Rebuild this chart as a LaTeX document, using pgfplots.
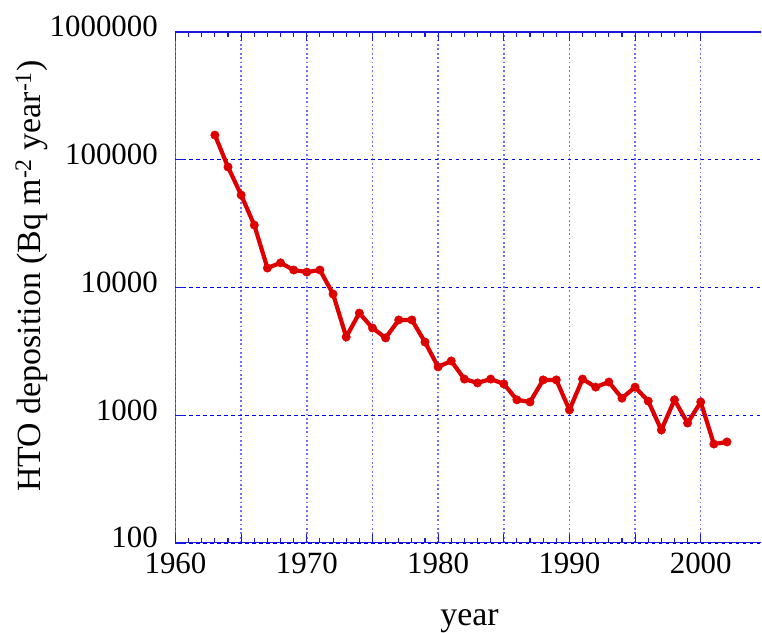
\documentclass[border=0pt]{standalone}
\usepackage{fontspec}
\setmainfont{Liberation Serif}
\usepackage{pgfplots}
\pgfplotsset{compat=1.18}
\definecolor{axblue}{RGB}{25,25,225}
\definecolor{gridv}{RGB}{110,110,250}
\definecolor{gridh}{RGB}{0,0,235}
\definecolor{linered}{RGB}{222,0,0}
\begin{document}
\begin{tikzpicture}
\begin{axis}[
  name=ax,
  scale only axis,
  width=585.5bp, height=511bp,
  xmin=1960, xmax=2004.59,
  ymode=log, ymin=100, ymax=1000000,
  xtick={1960,1965,...,2000},
  xticklabels={1960,,1970,,1980,,1990,,2000},
  minor x tick num=4,
  ytick={100,1000,10000,100000,1000000},
  yticklabels={100,1000,10000,100000,1000000},
  yminorticks=false,
  ytick pos=left,
  tick align=inside,
  major tick length=9bp,
  minor tick length=5bp,
  tick style={axblue, line width=1.1bp},
  axis line style={draw=none},
  xmajorgrids, ymajorgrids,
  major x grid style={gridv, line width=1.5bp, dash pattern=on 1.8bp off 2.6bp},
  major y grid style={gridh, line width=1.3bp, dash pattern=on 3.5bp off 3.5bp},
  xticklabel style={font=\fontsize{31}{36}\rmfamily\selectfont, anchor=base, yshift=-31bp, inner sep=0pt},
  yticklabel style={font=\fontsize{31}{36}\rmfamily\selectfont, anchor=base east, xshift=-17.5bp, yshift=-5bp, inner sep=0pt},
  xlabel={year},
  ylabel={HTO deposition (Bq m\textsuperscript{-2} year\textsuperscript{-1})},
  label style={font=\fontsize{34}{40}\selectfont},
  xlabel style={at={(axis description cs:0.5021,-0.1624)}, anchor=base, inner sep=0pt},
  ylabel style={at={(axis description cs:-0.2314,0.5225)}, anchor=base, inner sep=0pt},
]
\draw[axblue, line width=1.3bp] (rel axis cs:1.02,1) -- (rel axis cs:0,1) -- (rel axis cs:0,0) -- (rel axis cs:1.02,0);
\addplot[linered, line width=4.2bp, mark=*, mark size=4.2bp, mark options={fill=linered, draw=linered, line width=0.5bp}] coordinates {
(1963,156000) (1964,87700) (1965,53000) (1966,30800) (1967,14200)
(1968,15600) (1969,13700) (1970,13200) (1971,13700) (1972,8890)
(1973,4100) (1974,6310) (1975,4820) (1976,4030) (1977,5570)
(1978,5570) (1979,3740) (1980,2390) (1981,2660) (1982,1920)
(1983,1790) (1984,1920) (1985,1760) (1986,1320) (1987,1270)
(1988,1890) (1989,1890) (1990,1100) (1991,1920) (1992,1660)
(1993,1820) (1994,1360) (1995,1660) (1996,1290) (1997,767)
(1998,1320) (1999,869) (2000,1270) (2001,595) (2002,618)
};
\end{axis}
\pgfresetboundingbox
\path ([shift={(-175.5bp,-90bp)}]ax.south west) rectangle ([shift={(586.5bp,32bp)}]ax.north west);
\end{tikzpicture}
\end{document}
